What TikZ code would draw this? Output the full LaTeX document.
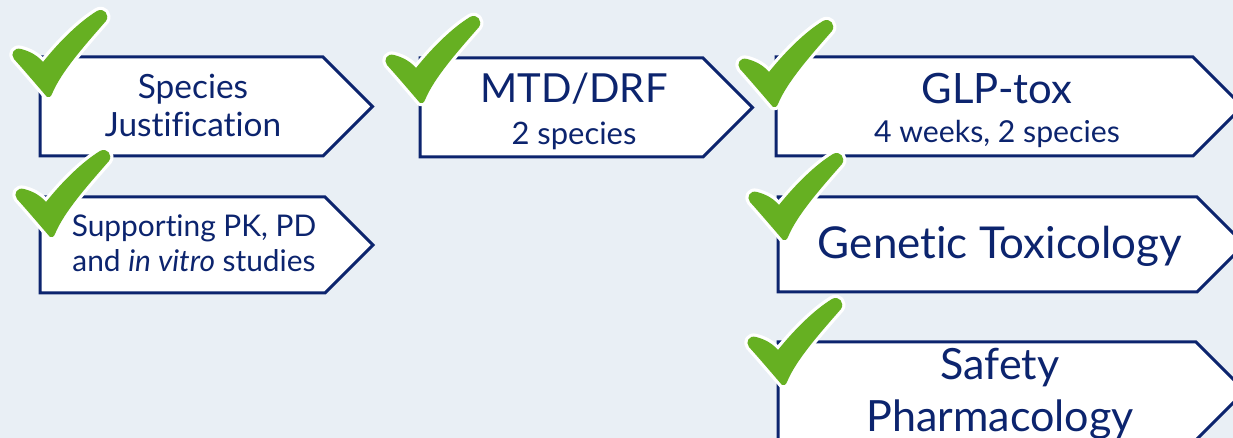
\documentclass[tikz,border=0pt]{standalone}
\usepackage{fontspec}
\setmainfont{Lato}[Ligatures=NoCommon]
\usetikzlibrary{positioning}

% arrow-shaped stage: left, top, end of flat part, bottom
\newcommand{\stagebox}[4]{%
  \draw[stage] (#1,#2) -- (#3,#2) -- ({#3+(#4-#2)/2},{(#2+#4)/2}) -- (#3,#4) -- (#1,#4) -- cycle;}
% outline of the check mark, bottom point at the origin
\newcommand{\checkpath}{(0,0) .. controls (-12,-14) and (-24,-28) .. (-33,-38)
  .. controls (-37,-43) and (-33,-50) .. (-26,-48)
  .. controls (-18,-46) and (-10,-42) .. (-4,-35)
  .. controls (12,-55) and (32,-75) .. (50,-86)
  .. controls (57,-90) and (63,-82) .. (59,-76)
  .. controls (38,-52) and (14,-25) .. (5,-3)
  .. controls (4,0) and (1,1) .. (0,0) -- cycle}

\begin{document}
\begin{tikzpicture}[x=0.02cm, y=-0.02cm]
    \definecolor{bgblue}{RGB}{233,239,245}
    \definecolor{navy}{RGB}{12,36,110}
    \definecolor{checkgreen}{RGB}{102,176,34}
    \tikzset{
      stage/.style={draw=navy, line width=0.06cm, fill=white},
      steptext/.style={text=navy, inner sep=0pt, anchor=base},
      greencheck/.pic={
        \path[draw=white, line width=0.13cm, line join=round] \checkpath;
        \fill[checkgreen] \checkpath;
      }
    }

    % 1. Nền
    \useasboundingbox (0,0) rectangle (1233,438);
    \clip (0,0) rectangle (1233,438);
    \fill[bgblue] (0,0) rectangle (1233,438);

    % 2. Các khung
    \stagebox{40}{57}{323}{156}
    \stagebox{40}{197}{325}{293}
    \stagebox{420}{58}{703}{157}
    \stagebox{776}{57}{1193}{156}
    \stagebox{778}{197}{1197}{292}
    \stagebox{778}{342}{1196}{440}

    % 3. Chữ
    \node[steptext, font=\fontsize{19pt}{21pt}\selectfont] (sj1) at (193,99) {Species};
    \node[steptext, font=\fontsize{19pt}{21pt}\selectfont] (sj2) at (193,137) {Justification};
    \node[steptext, font=\fontsize{17pt}{20pt}\selectfont] (pk1) at (194,237) {Supporting PK, PD};
    \node[steptext, font=\fontsize{17pt}{20pt}\selectfont] (pk2) at (194,272) {and \textit{in vitro} studies};
    \node[steptext, font=\fontsize{22.8pt}{26pt}\selectfont] (mtd1) at (574,103) {MTD/DRF};
    \node[steptext, font=\fontsize{17.6pt}{20pt}\selectfont] (mtd2) at (574,145) {2 species};
    \node[steptext, font=\fontsize{23.8pt}{26pt}\selectfont] (glp1) at (997,104) {GLP-tox};
    \node[steptext, font=\fontsize{17.2pt}{20pt}\selectfont] (glp2) at (997,143) {4 weeks, 2 species};
    \node[steptext, font=\fontsize{25pt}{28pt}\selectfont] (gen) at (1000,259) {Genetic Toxicology};
    \node[steptext, font=\fontsize{24.5pt}{28pt}\selectfont] (sp1) at (1000,380) {Safety};
    \node[steptext, font=\fontsize{24.5pt}{28pt}\selectfont] (sp2) at (1000,432) {Pharmacology};

    % 4. Dấu tích
    \pic at (47,97) {greencheck};
    \pic at (50,237) {greencheck};
    \pic at (420,103) {greencheck};
    \pic at (773,107) {greencheck};
    \pic at (783,240) {greencheck};
    \pic at (782,385) {greencheck};
\end{tikzpicture}
\end{document}
